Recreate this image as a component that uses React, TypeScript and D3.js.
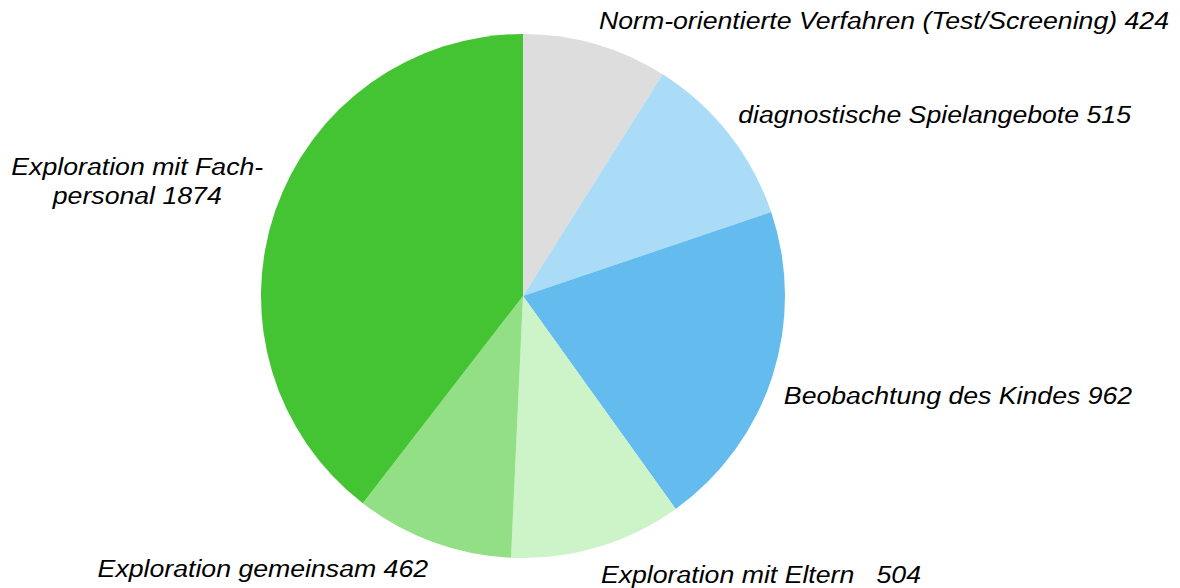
import React, { useRef, useEffect } from "react";
import * as d3 from "d3";

const width = 1180;
const height = 588;

// slices, clockwise from 12 o'clock
const categories = [
  ["Norm-orientierte Verfahren (Test/Screening) 424"],
  ["diagnostische Spielangebote 515"],
  ["Beobachtung des Kindes 962"],
  ["Exploration mit Eltern   504"],
  ["Exploration gemeinsam 462"],
  ["Exploration mit Fach-", "personal 1874"],
];
const values = [424, 515, 962, 504, 462, 1874];
const colors = ["#dddddd", "#aadcf7", "#63bbee", "#ccf4c8", "#93df85", "#44c333"];

const cx = 523;
const cy = 296;
const radius = 262;
const fontSize = 23;
const lineHeight = 29;
const stretch = 1.16; // labels render a bit wider than Liberation Sans

const App = () => {
  const svgRef = useRef<SVGSVGElement>(null);

  useEffect(() => {
    const svg = d3.select(svgRef.current);
    svg.selectAll("*").remove();

    const data = values.map((v, i) => ({ value: v, lines: categories[i], color: colors[i] }));

    const pie = d3.pie<any>().value((d) => d.value).sort(null);
    const arcs = pie(data);
    const arc = d3.arc<any>().innerRadius(0).outerRadius(radius);

    const g = svg.append("g").attr("transform", `translate(${cx},${cy})`);

    g.selectAll("path")
      .data(arcs)
      .enter()
      .append("path")
      .attr("d", arc)
      .style("fill", (d) => d.data.color);

    // labels: nearest corner of the text box sits on a point just outside the rim
    const labelR = radius + 12;
    arcs.forEach((a) => {
      const mid = (a.startAngle + a.endAngle) / 2;
      const px = Math.sin(mid) * labelR;
      const py = -Math.cos(mid) * labelR;
      const right = px >= 0;
      const lines: string[] = a.data.lines;

      const t = g.append("text")
        .attr("text-anchor", lines.length > 1 ? "middle" : "start")
        .style("font-family", "'Liberation Sans', Arial, sans-serif")
        .style("font-style", "italic")
        .style("font-size", `${fontSize}px`)
        .style("fill", "#000")
        .style("white-space", "pre");

      lines.forEach((ln, i) => {
        t.append("tspan").attr("x", 0).attr("y", i * lineHeight).text(ln);
      });

      const b = (t.node() as SVGTextElement).getBBox();
      const bx = b.x * stretch;
      const bw = b.width * stretch;
      const tx = right ? px - bx : px - (bx + bw);
      const ty = py < 0 ? py - (b.y + b.height) + 1.5 : py - b.y + 3;
      t.attr("transform", `translate(${tx},${ty}) scale(${stretch},1)`);
    });
  }, []);

  return (
    <svg
      ref={svgRef}
      width={width}
      height={height}
      style={{ position: "absolute", left: 0, top: 0, background: "white" }}
    />
  );
};

export default App;
